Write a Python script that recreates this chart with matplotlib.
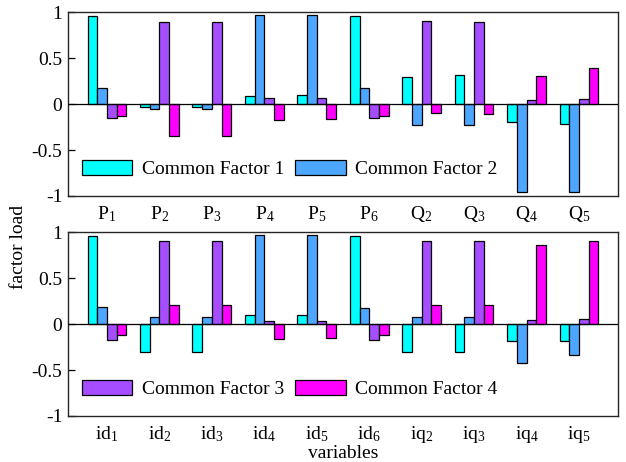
import numpy as np
import matplotlib
matplotlib.use('Agg')
import matplotlib.pyplot as plt

plt.rcParams['font.family'] = ['Liberation Serif', 'DejaVu Serif']
plt.rcParams['mathtext.fontset'] = 'custom'
plt.rcParams['mathtext.rm'] = 'Liberation Serif'
plt.rcParams['mathtext.it'] = 'Liberation Serif'
plt.rcParams['font.size'] = 14

# top panel: power variables
top_labels = ['P$_1$', 'P$_2$', 'P$_3$', 'P$_4$', 'P$_5$', 'P$_6$',
              'Q$_2$', 'Q$_3$', 'Q$_4$', 'Q$_5$']
top_f1 = [0.953, -0.036, -0.036, 0.090, 0.097, 0.953, 0.294, 0.315, -0.200, -0.220]
top_f2 = [0.172, -0.057, -0.057, 0.964, 0.964, 0.172, -0.230, -0.230, -0.960, -0.960]
top_f3 = [-0.150, 0.890, 0.890, 0.065, 0.065, -0.150, 0.900, 0.890, 0.040, 0.057]
top_f4 = [-0.130, -0.344, -0.344, -0.170, -0.160, -0.130, -0.093, -0.104, 0.308, 0.390]

# bottom panel: current variables
bot_labels = ['id$_1$', 'id$_2$', 'id$_3$', 'id$_4$', 'id$_5$', 'id$_6$',
              'iq$_2$', 'iq$_3$', 'iq$_4$', 'iq$_5$']
bot_f1 = [0.957, -0.300, -0.300, 0.094, 0.100, 0.957, -0.300, -0.300, -0.180, -0.180]
bot_f2 = [0.180, 0.075, 0.075, 0.970, 0.970, 0.176, 0.075, 0.075, -0.420, -0.340]
bot_f3 = [-0.170, 0.906, 0.906, 0.032, 0.032, -0.170, 0.906, 0.906, 0.040, 0.054]
bot_f4 = [-0.120, 0.205, 0.205, -0.160, -0.150, -0.115, 0.205, 0.205, 0.860, 0.900]

factor_names = ['Common Factor 1', 'Common Factor 2', 'Common Factor 3', 'Common Factor 4']
colors = ['#00FFFF', '#4DA6FF', '#A64DFF', '#FF00FF']

fig = plt.figure(figsize=(6.26, 4.62), dpi=100)
ax1 = fig.add_axes([0.1086, 0.5758, 0.8786, 0.398])
ax2 = fig.add_axes([0.1086, 0.0996, 0.8786, 0.398])

width = 0.185


def draw_panel(ax, labels, series, legend_idx):
    x = np.arange(1, len(labels) + 1)
    bars = []
    for i, vals in enumerate(series):
        b = ax.bar(x + (i - 1.5) * width, vals, width, color=colors[i],
                   edgecolor='black', linewidth=0.9, zorder=2)
        bars.append(b)
    ax.axhline(0, color='black', linewidth=0.9, zorder=3)
    ax.set_xlim(0.256, 10.744)
    ax.set_ylim(-1, 1)
    ax.set_yticks([-1, -0.5, 0, 0.5, 1])
    ax.set_yticklabels(['-1', '-0.5', '0', '0.5', '1'])
    ax.set_xticks(x)
    ax.set_xticklabels(labels)
    ax.tick_params(axis='y', direction='in', length=5, width=0.9, pad=4)
    ax.tick_params(axis='x', length=0, pad=6)
    for s in ax.spines.values():
        s.set_linewidth(1.0)
        s.set_color('#262626')
    ax.legend([bars[i] for i in legend_idx], [factor_names[i] for i in legend_idx],
              ncol=2, loc='center left', bbox_to_anchor=(0.025, 0.146),
              frameon=False, borderpad=0, borderaxespad=0,
              handlelength=2.6, handleheight=0.77, handletextpad=0.48,
              columnspacing=0.58)


draw_panel(ax1, top_labels, [top_f1, top_f2, top_f3, top_f4], [0, 1])
draw_panel(ax2, bot_labels, [bot_f1, bot_f2, bot_f3, bot_f4], [2, 3])

fig.text(0.029, 0.465, 'factor load', rotation=90, ha='center', va='center')
fig.text(0.548, 0.008, 'variables', ha='center', va='baseline')

fig.savefig('out.png', dpi=100)
